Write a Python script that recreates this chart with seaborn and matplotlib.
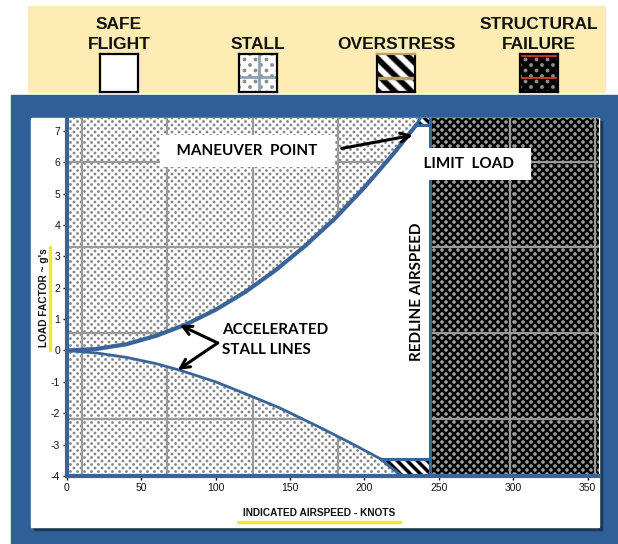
import numpy as np
import pandas as pd
import matplotlib
matplotlib.use('Agg')
import matplotlib.pyplot as plt
import seaborn as sns
from matplotlib.patches import Rectangle, Polygon
from matplotlib.lines import Line2D
from matplotlib.colors import to_rgb

# ---- data ----
pos_speed = [0, 20, 40, 60, 80, 100, 120, 140, 160, 180, 200, 220, 235]
pos_load = [0, 0.05, 0.2, 0.47, 0.83, 1.3, 1.87, 2.55, 3.33, 4.2, 5.2, 6.3, 7.2]
neg_speed = [0, 20, 40, 60, 76, 100, 120, 143, 170, 190, 211]
neg_load = [0, -0.08, -0.22, -0.42, -0.63, -1.0, -1.38, -1.83, -2.45, -2.93, -3.46]
pos_limit = 7.2
neg_limit = -3.46
redline = 244
# overstress corners (past the maneuver point / past the negative stall line)
over_top_speed = [235, 244, 244, 237.5]
over_top_load = [7.2, 7.2, 7.41, 7.41]
over_bot_speed = [211, 244, 244, 225]
over_bot_load = [-3.46, -3.46, -4, -4]
x_ticks = [0, 50, 100, 150, 200, 250, 300, 350]
y_ticks = [-4, -3, -2, -1, 0, 1, 2, 3, 4, 5, 6, 7]
grid_speed = [10, 67.5, 125, 182.5, 240, 297.5, 355]
grid_load = [-2.17, 0.56, 3.29, 6.02]
legend_labels = ['SAFE\nFLIGHT', 'STALL', 'OVERSTRESS', 'STRUCTURAL\nFAILURE']
xmin, xmax, ymin, ymax = 0, 357, -4, 7.41

sns.set_theme(style='white')
plt.rcParams['font.family'] = ['Liberation Sans', 'DejaVu Sans']
plt.rcParams['axes.unicode_minus'] = False

W, H = 618, 544
BLUE = '#2f5f97'
LINE = '#3a6497'
fig = plt.figure(figsize=(W / 100, H / 100), dpi=100, facecolor='white')

def fx(px):
    return px / W

def fy(py):
    return 1 - py / H

def dots(h, w, step, r, bg, fg):
    yy, xx = np.mgrid[0:h, 0:w] + 0.5
    d1 = np.hypot(xx % step - step / 2, yy % step - step / 2)
    d2 = np.hypot((xx + step / 2) % step - step / 2, (yy + step / 2) % step - step / 2)
    a = np.clip(r + 0.5 - np.minimum(d1, d2), 0, 1)[..., None]
    bg, fg = np.array(to_rgb(bg)), np.array(to_rgb(fg))
    return bg + (fg - bg) * a

def stripes(h, w, period):
    yy, xx = np.mgrid[0:h, 0:w]
    v = 0.5 + 0.5 * np.sin(2 * np.pi * (xx - yy) / period)
    v = np.clip((v - 0.5) * 2.2 + 0.5, 0, 1)
    return np.dstack([v, v, v])

# background decorations (behind every axes)
def backdrop(x0, y0, x1, y1, color):
    fig.patches.append(Rectangle((fx(x0), fy(y1)), (x1 - x0) / W, (y1 - y0) / H,
                                 transform=fig.transFigure, color=color, zorder=-10))

backdrop(28, 6, 605, 92, '#fdecb3')
backdrop(11, 95, 618, 544, BLUE)
backdrop(34, 121, 602, 530, '#1c3656')
backdrop(31, 118, 599, 527, 'white')

# ---- legend ----
legend_x = [119, 258, 396, 539]
for i, lab in enumerate(legend_labels):
    fig.text(fx(legend_x[i]), fy(52), lab, ha='center', va='bottom', fontsize=12.5, fontweight='bold',
             linespacing=1.42, color='#111111')
    sax = fig.add_axes([fx(legend_x[i] - 19), fy(92), 38 / W, 38 / H])
    if i == 0:
        sax.set_facecolor('white')
    elif i == 1:
        sax.imshow(dots(38, 38, 11, 1.9, 'white', '#8d8d8d'), aspect='auto')
        sax.axvline(19, color='#8aa2b8', lw=2)
        sax.axhline(22, color='#8aa2b8', lw=2)
    elif i == 2:
        sax.imshow(stripes(38, 38, 16), aspect='auto')
        sax.axhline(23, color='#b9a06e', lw=2.5)
    else:
        sax.imshow(dots(38, 38, 11, 1.9, 'black', '#8d8d8d'), aspect='auto')
        sax.axhline(1, color='#c0392b', lw=1.5)
        sax.axhline(23, color='#c0392b', lw=1.5)
    sax.set_xticks([])
    sax.set_yticks([])
    for s in sax.spines.values():
        s.set_color('black')
        s.set_linewidth(1.6)
        s.set_visible(True)
    if i == 2:
        sax.spines['top'].set_color('#b9a06e')

# ---- main axes ----
ax = fig.add_axes([fx(67), fy(476), (598 - 67) / W, (476 - 118) / H])
ax_w, ax_h = 598 - 67, 476 - 118
ext = [xmin, xmax, ymin, ymax]
ax.imshow(dots(ax_h, ax_w, 7, 1.35, 'white', '#868686'), extent=ext, aspect='auto',
          interpolation='none', zorder=0.2)
rw = int(round((xmax - redline) / (xmax - xmin) * ax_w))
ax.imshow(dots(ax_h, rw, 8, 1.75, '#050505', '#a4a4a4'), extent=[redline, xmax, ymin, ymax],
          aspect='auto', interpolation='none', zorder=0.3)
over_top = Polygon(list(zip(over_top_speed, over_top_load)), closed=True, transform=ax.transData)
over_bot = Polygon(list(zip(over_bot_speed, over_bot_load)), closed=True, transform=ax.transData)
for clip in (over_top, over_bot):
    img = ax.imshow(stripes(ax_h, ax_w, 10), extent=ext, aspect='auto',
                    interpolation='none', zorder=2.1)
    img.set_clip_path(clip)

# texture grid lines sit above the fills but under the safe envelope
ax.set_axisbelow(True)
ax.set_xticks(grid_speed, minor=True)
ax.set_yticks(grid_load, minor=True)
ax.grid(which='minor', color='#9a9a9a', lw=1.6)
ax.grid(which='major', visible=False)
for gl in ax.xaxis.get_minorticklines() + ax.yaxis.get_minorticklines():
    gl.set_visible(False)

# safe flight envelope
safe_v = pos_speed + [redline, redline] + neg_speed[::-1]
safe_n = pos_load + [pos_limit, neg_limit] + neg_load[::-1]
ax.fill(safe_v, safe_n, color='white', zorder=2, lw=0)

sns.lineplot(x=pos_speed, y=pos_load, ax=ax, color=LINE, lw=3.0, zorder=3, sort=False)
sns.lineplot(x=neg_speed, y=neg_load, ax=ax, color=LINE, lw=2.0, zorder=3, sort=False)
ax.plot([over_top_speed[0], over_top_speed[1]], [pos_limit, pos_limit], color=LINE, lw=2.2, zorder=3)
ax.plot([over_top_speed[0], over_top_speed[3]], [pos_limit, ymax], color=LINE, lw=2.2, zorder=3)
ax.plot([over_bot_speed[0], over_bot_speed[1]], [neg_limit, neg_limit], color=LINE, lw=2.2, zorder=3)
ax.plot([over_bot_speed[0], over_bot_speed[3]], [neg_limit, ymin], color=LINE, lw=2.2, zorder=3)
ax.plot([redline, redline], [ymin, ymax], color=LINE, lw=2.2, zorder=3)

ax.set_xlim(xmin, xmax)
ax.set_ylim(ymin, ymax)
ax.set_xticks(x_ticks)
ax.set_xticklabels([str(t) for t in x_ticks])
ax.set_yticks(y_ticks)
ax.set_yticklabels([str(t) for t in y_ticks])
ax.tick_params(which='major', length=3, width=1, color='black', labelsize=7.5, pad=2,
               left=True, bottom=True, labelcolor='#111111')
for side in ['top', 'right']:
    ax.spines[side].set_visible(False)
for side in ['left', 'bottom']:
    ax.spines[side].set_color(LINE)
    ax.spines[side].set_linewidth(3)
    ax.spines[side].set_zorder(3.5)

# annotations
note = dict(fontsize=11, fontweight='bold', family=['Lato', 'DejaVu Sans'], color='black', zorder=5)
ax.text(121.3, 6.36, '  MANEUVER  POINT  ', ha='center', va='center',
        bbox=dict(boxstyle='square,pad=0.6', fc='white', ec='none'), **note)
ax.text(270.4, 5.95, '  LIMIT  LOAD  ', ha='center', va='center',
        bbox=dict(boxstyle='square,pad=0.6', fc='white', ec='none'), **note)
ax.text(104.1, 0.33, 'ACCELERATED\nSTALL LINES', ha='left', va='center', linespacing=1.5, **note)
ax.text(235.1, 1.86, 'REDLINE AIRSPEED', ha='center', va='center', rotation=90, **note)
arrow = dict(arrowstyle='->', lw=2.2, color='black', mutation_scale=16, shrinkA=0, shrinkB=0)
ax.annotate('', xy=(232.4, 6.86), xytext=(184.7, 6.44), arrowprops=arrow, zorder=5)
ax.annotate('', xy=(75.9, 0.81), xytext=(101.3, 0.24), arrowprops=arrow, zorder=5)
ax.annotate('', xy=(74.5, -0.62), xytext=(101.3, 0.24), arrowprops=arrow, zorder=5)

# axis titles with yellow highlight
fig.text(fx(319), fy(516), 'INDICATED AIRSPEED - KNOTS', ha='center', va='baseline',
         fontsize=7.3, fontweight='bold', color='#111111')
fig.add_artist(Line2D([fx(238), fx(400)], [fy(522), fy(522)], color='#f0e634', lw=2.5))
fig.text(fx(44), fy(298), "LOAD FACTOR ~ g's", ha='center', va='center', rotation=90,
         fontsize=7.3, fontweight='bold', color='#111111')
fig.add_artist(Line2D([fx(50), fx(50)], [fy(247), fy(350)], color='#f0e634', lw=2.5))

fig.savefig('out.png', dpi=100, facecolor='white')
